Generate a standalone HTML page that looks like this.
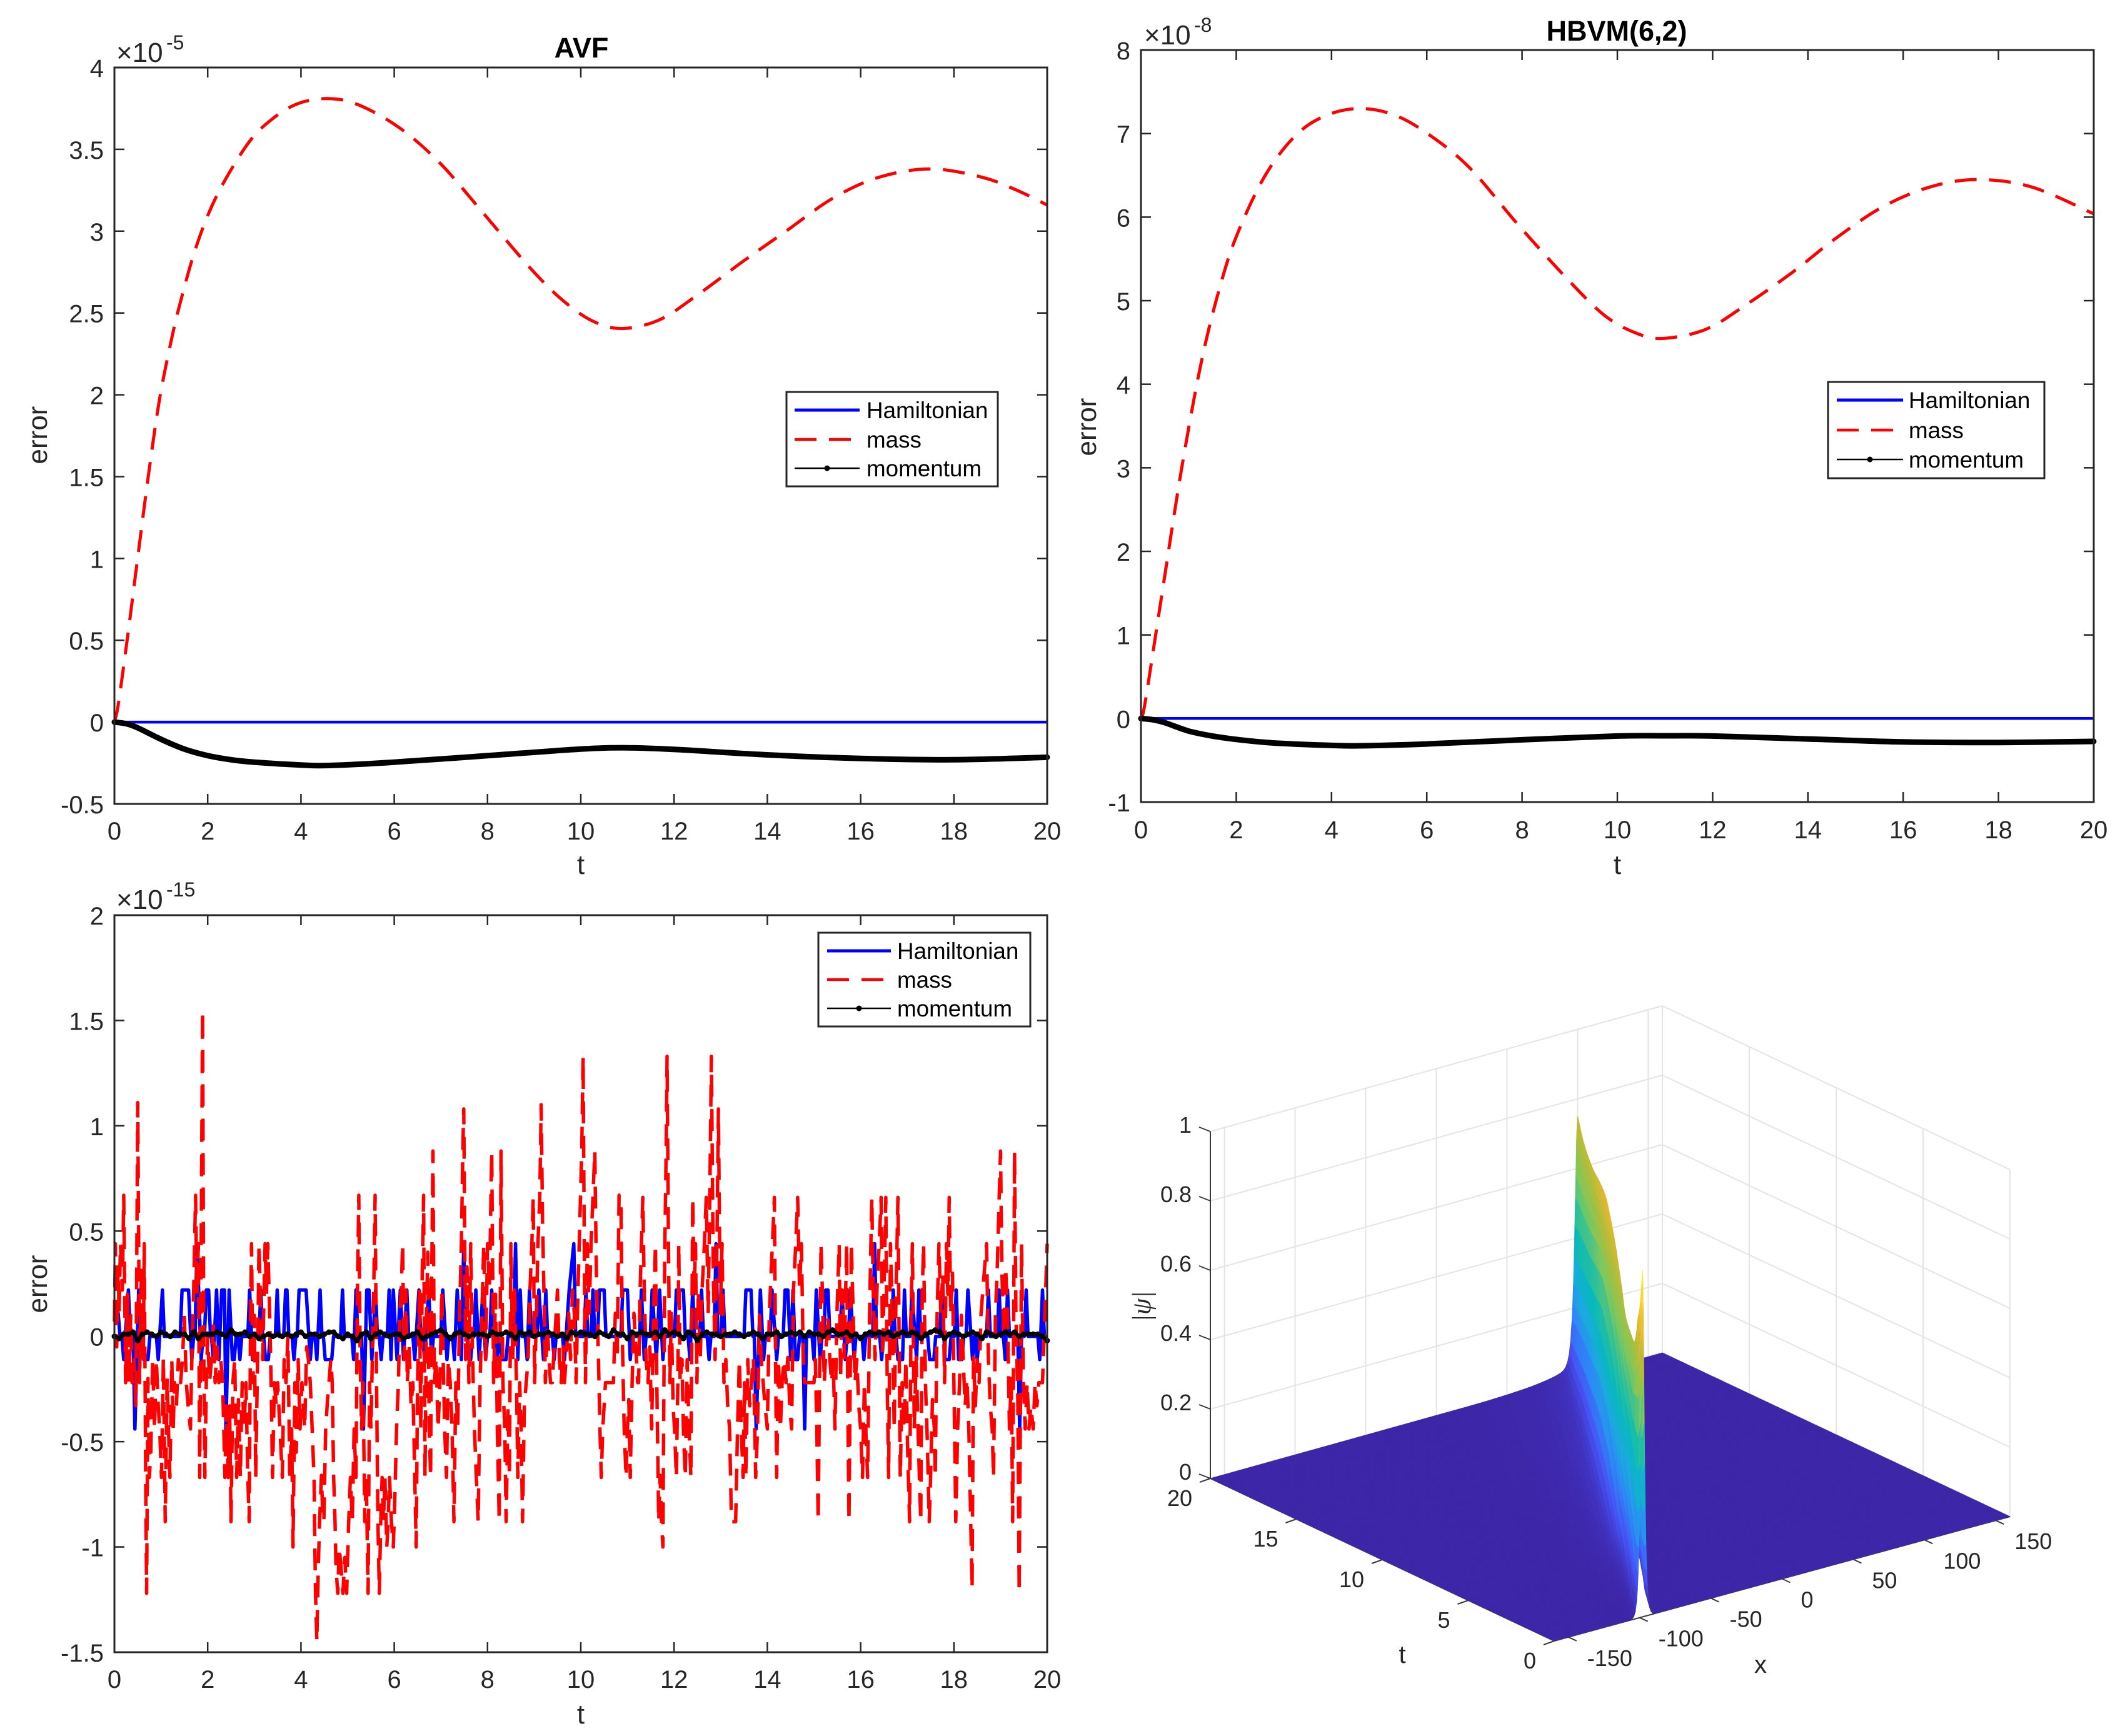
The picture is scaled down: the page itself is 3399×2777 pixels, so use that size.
<!DOCTYPE html>
<html lang="en">
<head>
<meta charset="utf-8">
<title>Error plots and soliton surface</title>
<style>
html,body{margin:0;padding:0;background:#fff;}
svg{display:block;}
text{font-family:"Liberation Sans",Arial,sans-serif;fill:#262626;}
</style>
</head>
<body>
<svg id="fig" xmlns="http://www.w3.org/2000/svg" width="3399" height="2777" viewBox="0 0 3399 2777">
  <rect x="0" y="0" width="3399" height="2777" fill="#ffffff"/>
  <g id="p1"></g>
  <g id="p2"></g>
  <g id="p3"></g>
  <g id="p4"></g>
</svg>
<script>
// ---- shared axis categories ----
const tTicks = [0,2,4,6,8,10,12,14,16,18,20];
const legendLabels = ['Hamiltonian','mass','momentum'];

// ---- AVF panel ----
const avfYTicks = [-0.5,0,0.5,1,1.5,2,2.5,3,3.5,4];
const avfYLabels = ['-0.5','0','0.5','1','1.5','2','2.5','3','3.5','4'];
const avfMassT = [0,0.09,0.3,0.52,0.74,0.96,1.18,1.4,1.76,2.2,2.85,3.36,3.94,4.6,5.25,6.12,7,7.94,8.9,9.6,10.26,10.9,11.7,12.5,13.5,14.4,15.4,16.4,17.5,18.6,19.35,20];
const avfMassV = [0,0.12,0.56,1.05,1.53,1.96,2.28,2.55,2.91,3.22,3.53,3.68,3.78,3.81,3.77,3.63,3.41,3.1,2.78,2.58,2.45,2.405,2.46,2.61,2.82,3.0,3.2,3.33,3.38,3.33,3.25,3.16];
const avfMomT = [0,0.25,0.5,1,1.5,2,2.5,3,4,4.6,6,8,10,11,12,14,16,18,20];
const avfMomV = [0,-0.01,-0.035,-0.105,-0.165,-0.205,-0.23,-0.245,-0.262,-0.265,-0.245,-0.205,-0.165,-0.157,-0.167,-0.2,-0.222,-0.23,-0.215];
const avfHamT = [0,20];
const avfHamV = [0,0];

// ---- HBVM panel ----
const hbvmYTicks = [-1,0,1,2,3,4,5,6,7,8];
const hbvmYLabels = ['-1','0','1','2','3','4','5','6','7','8'];
const hbvmMassT = [0,0.09,0.43,0.85,1.28,1.7,2.06,2.63,3.27,3.9,4.6,5.33,6.04,6.9,7.9,8.9,9.74,10.45,11,11.87,12.7,13.7,14.57,15.56,16.56,17.55,18.7,20];
const hbvmMassV = [0,0.2,1.45,2.98,4.3,5.25,5.85,6.52,6.99,7.22,7.3,7.22,6.99,6.59,5.92,5.29,4.82,4.6,4.55,4.66,4.95,5.35,5.74,6.12,6.36,6.45,6.36,6.04];
const hbvmMomT = [0,0.25,0.5,1,1.5,2,2.5,3,4,4.6,6,8,10,11,12,14,16,18,20];
const hbvmMomV = [0,-0.015,-0.05,-0.15,-0.21,-0.25,-0.28,-0.3,-0.322,-0.327,-0.305,-0.255,-0.21,-0.207,-0.21,-0.245,-0.28,-0.287,-0.274];
const hbvmHamT = [0,20];
const hbvmHamV = [0,0];

// ---- round-off noise panel ----
const noiseYTicks = [-1.5,-1,-0.5,0,0.5,1,1.5,2];
const noiseYLabels = ['-1.5','-1','-0.5','0','0.5','1','1.5','2'];
const noiseHamT = [0,0.08,0.2,0.3,0.44,0.52,0.63,0.72,0.94,1.03,1.45,1.5,1.59,1.66,1.77,1.86,1.97,2.02,2.12,2.19,2.24,2.3,2.36,2.39,2.46,2.53,2.57,2.69,2.9,2.96,3.14,3.24,3.3,3.49,3.67,3.7,3.85,3.96,4.0,4.08,4.11,4.2,4.34,4.41,4.52,4.6,4.66,4.89,5.13,5.18,5.34,5.41,5.46,5.52,5.6,5.72,5.89,5.93,5.98,6.06,6.13,6.2,6.27,6.44,6.53,6.65,6.74,6.8,7.04,7.13,7.29,7.35,7.44,7.49,7.6,7.64,7.75,7.82,7.9,7.96,8.09,8.2,8.3,8.4,8.6,8.65,8.7,8.85,8.9,9.1,9.2,9.25,9.43,9.65,9.75,9.85,10.11,10.26,10.4,10.5,10.9,11,11.06,11.3,11.36,11.53,11.62,11.69,11.76,12.05,12.12,12.2,12.34,12.4,12.59,12.75,12.9,13.05,13.54,13.6,13.65,13.76,13.85,13.92,14.1,14.2,14.38,14.44,14.5,14.55,14.6,14.65,14.8,15,15.05,15.13,15.25,15.3,15.6,15.67,15.78,15.86,16.07,16.3,16.45,16.7,16.8,16.9,16.94,17.1,17.2,17.25,17.48,17.57,17.74,17.81,17.9,18.05,18.1,18.17,18.3,18.4,18.5,18.74,18.97,19.1,19.15,19.41,19.55,19.84,19.9,20];
const noiseHamV = [0.17,0.11,-0.11,0.22,-0.44,0.22,-0.11,-0.11,-0.11,0.22,0.22,0.22,0.22,-0.11,0.44,-0.11,0.22,0.22,-0.11,0.22,-0.11,0.22,0.22,-0.44,0.22,-0.11,-0.11,-0.11,0.22,-0.11,0.22,-0.11,-0.11,0.22,0.22,0.22,-0.11,0.22,0.22,0.22,0.22,-0.11,-0.11,0.22,-0.11,-0.11,-0.11,0.22,-0.11,0.22,-0.44,0.22,0.22,-0.11,0.22,-0.11,0.22,-0.11,0.22,-0.11,0.22,-0.11,0.22,-0.11,0.22,-0.11,0.22,-0.11,0.22,-0.11,-0.11,0.22,-0.11,0.44,-0.11,-0.11,0.22,-0.11,0.22,-0.11,0.22,-0.11,-0.11,-0.11,0.44,-0.11,0.22,-0.11,0.22,0.22,-0.11,0.22,-0.11,-0.11,0.22,0.44,0.22,0.22,0.22,0.22,0.22,0.22,-0.11,0.22,-0.11,0.22,-0.11,0.22,-0.11,0.22,0.22,0.22,-0.11,0.22,0.22,-0.11,0.44,0.22,0.22,0.22,0.22,-0.44,0.22,-0.11,0.22,-0.11,0.22,0.22,-0.11,0.22,-0.11,-0.11,-0.44,-0.11,0.22,-0.11,0.22,0.22,0.22,-0.11,0.22,-0.11,-0.11,0.44,-0.11,0.22,-0.11,-0.11,0.22,0.22,-0.11,0.22,-0.11,-0.11,0.22,-0.11,-0.11,0.22,-0.11,-0.11,0.22,-0.11,-0.11,0.22,0.22,-0.11,0.22,-0.44,0.22,-0.11,0.22,-0.02];
const noiseMassT = [0,.02,.05,.08,.1,.13,.17,.2,.24,.28,
.31,.35,.38,.42,.46,.5,.54,.58,.62,.64,
.67,.69,.72,.75,.78,.82,.86,.9,.94,.97,
1.01,1.05,1.09,1.13,1.16,1.19,1.23,1.26,1.29,1.33,
1.37,1.42,1.46,1.5,1.54,1.58,1.63,1.67,1.7,1.74,
1.77,1.8,1.83,1.86,1.89,1.92,1.94,1.97,2,2.04,
2.08,2.12,2.16,2.2,2.24,2.28,2.32,2.37,2.4,2.44,
2.47,2.5,2.54,2.58,2.62,2.66,2.7,2.74,2.78,2.82,
2.86,2.89,2.92,2.94,2.97,3,3.03,3.07,3.1,3.14,
3.18,3.23,3.26,3.29,3.33,3.36,3.39,3.43,3.47,3.5,
3.55,3.6,3.64,3.68,3.72,3.76,3.8,3.83,3.87,3.9,
3.94,3.98,4.02,4.05,4.08,4.12,4.16,4.2,4.24,4.28,
4.31,4.34,4.37,4.4,4.44,4.47,4.49,4.53,4.57,4.6,
4.64,4.67,4.7,4.73,4.75,4.79,4.82,4.86,4.9,4.94,
4.98,5.02,5.06,5.1,5.14,5.18,5.21,5.24,5.27,5.3,
5.33,5.37,5.4,5.44,5.47,5.5,5.53,5.56,5.59,5.62,
5.65,5.68,5.71,5.74,5.77,5.8,5.84,5.87,5.9,5.94,
5.98,6.01,6.05,6.09,6.12,6.15,6.18,6.21,6.25,6.28,
6.32,6.36,6.4,6.44,6.47,6.5,6.54,6.57,6.6,6.63,
6.66,6.69,6.72,6.75,6.78,6.8,6.83,6.86,6.9,6.94,
6.98,7.02,7.05,7.08,7.12,7.16,7.2,7.24,7.28,7.32,
7.36,7.4,7.44,7.47,7.49,7.53,7.56,7.6,7.64,7.68,
7.72,7.76,7.8,7.84,7.88,7.92,7.96,8,8.04,8.09,
8.13,8.17,8.21,8.25,8.29,8.33,8.37,8.4,8.44,8.47,
8.5,8.54,8.58,8.62,8.65,8.69,8.72,8.75,8.79,8.83,
8.87,8.91,8.95,8.98,9.01,9.05,9.08,9.12,9.15,9.18,
9.21,9.24,9.28,9.32,9.35,9.39,9.43,9.47,9.5,9.54,
9.58,9.62,9.65,9.7,9.74,9.78,9.82,9.86,9.9,9.94,
9.98,10.02,10.05,10.08,10.1,10.14,10.18,10.22,10.26,10.3,
10.34,10.38,10.41,10.44,10.47,10.5,10.53,10.7,10.74,10.78,
10.82,10.86,10.89,10.93,10.97,11,11.03,11.06,11.1,11.14,
11.18,11.22,11.24,11.27,11.3,11.33,11.36,11.4,11.44,11.48,
11.52,11.56,11.6,11.63,11.67,11.7,11.73,11.76,11.8,11.83,
11.85,11.88,11.91,11.94,11.98,12.01,12.05,12.08,12.1,12.13,
12.17,12.2,12.24,12.28,12.32,12.36,12.4,12.43,12.46,12.49,
12.52,12.56,12.6,12.65,12.69,12.73,12.76,12.8,12.84,12.88,
12.92,12.95,12.99,13.03,13.07,13.11,13.15,13.19,13.23,13.27,
13.32,13.36,13.4,13.44,13.48,13.51,13.54,13.58,13.62,13.66,
13.7,13.75,13.79,13.83,13.87,13.91,13.95,14,14.04,14.08,
14.12,14.15,14.18,14.2,14.24,14.28,14.32,14.36,14.4,14.44,
14.48,14.52,14.56,14.6,14.65,14.69,14.73,14.77,14.8,15,
15.03,15.06,15.09,15.12,15.15,15.18,15.22,15.26,15.3,15.34,
15.38,15.41,15.45,15.49,15.54,15.57,15.61,15.65,15.7,15.73,
15.75,15.78,15.8,15.84,15.88,15.92,15.96,16,16.04,16.08,
16.12,16.15,16.19,16.22,16.24,16.27,16.31,16.35,16.4,16.44,
16.47,16.51,16.54,16.57,16.6,16.64,16.68,16.72,16.76,16.8,
16.85,16.89,16.93,16.97,17.01,17.05,17.08,17.11,17.15,17.19,
17.23,17.26,17.29,17.32,17.35,17.39,17.43,17.47,17.5,17.54,
17.58,17.6,17.64,17.68,17.72,17.76,17.8,17.84,17.87,17.9,
17.93,17.97,18,18.04,18.08,18.12,18.16,18.2,18.24,18.28,
18.32,18.36,18.39,18.42,18.46,18.5,18.54,18.58,18.62,18.66,
18.7,18.74,18.78,18.82,18.85,18.89,18.93,18.97,19,19.03,
19.07,19.11,19.15,19.19,19.23,19.26,19.3,19.33,19.37,19.4,
19.45,19.49,19.53,19.57,19.61,19.65,19.7,19.74,19.78,19.82,
19.9,19.95,20];
const noiseMassV = [.07,.44,-.05,.33,.11,.44,.22,.67,-.22,.2,
-.22,.1,-.22,-.11,-.33,1.11,-.22,.33,-.11,.44,
-.67,-1.22,-.2,-.67,-.55,-.11,-.44,-.11,-.33,-.44,
-.67,-.1,-.88,-.2,-.44,-.67,-.11,-.44,-.22,-.33,
-.11,-.22,-.11,.1,-.22,-.33,-.44,0,.22,.67,
.2,.44,-.67,.44,1.55,-.2,-.67,-.22,0,-.22,
-.11,.05,-.22,-.05,-.22,-.11,-.22,-.67,-.33,-.67,
-.33,-.88,-.22,-.11,-.67,-.3,-.67,-.22,-.44,-.22,
-.67,-.88,.1,.44,-.22,.1,-.67,-.11,.44,.11,
-.11,.44,.2,.44,.1,-.22,-.67,-.22,-.33,-.22,
-.44,-.67,-.11,-.22,0,-.67,-.44,-1,-.22,-.55,
-.11,-.44,-.22,-.33,-.44,-.05,-.11,-.22,-.44,-.67,
-1.2,-1.45,-1.11,-.88,-.66,-.88,-.88,-.44,-.3,-.22,
-.11,-.22,-.66,-.88,-1.1,-1.22,-1,-1.1,-1.22,-1.05,
-1.22,-.9,-.67,-.88,-.44,-.67,.22,.67,-.11,-.44,
-.22,-.88,-.66,-1.22,-.22,-.44,-.11,.22,.67,-.22,
-.88,-1.22,-.88,-.67,-.88,-.67,-1,-.88,-.67,-.88,
-1,-.8,-.44,-.22,.11,.22,.44,-.11,.22,-.22,
-.05,-.33,-.22,-.67,-1,-.22,.22,-.44,.3,.67,
-.67,.1,.4,-.44,-.67,.22,.88,-.22,-.1,-.44,
-.22,.22,-.11,-.44,-.67,-.11,-.22,-.44,-.88,-.22,
-.44,.1,.44,.88,1.08,-.11,.33,-.22,.44,-.1,
-.44,-.67,-.88,-.22,.1,.44,-.11,.44,.22,.88,
-.22,.2,-.44,-.88,.88,-.22,-.44,-.88,-.33,-.67,
.44,-.11,.22,-.22,-.67,-.22,-.44,-.88,-.33,-.22,
-.11,.22,.44,.66,-.22,.11,.44,.66,1.1,.55,
.2,-.22,.05,-.11,-.22,-.22,-.05,.1,.22,-.11,
-.22,-.05,-.22,-.05,.11,-.11,.22,.11,-.22,.22,
.55,.88,1.33,.22,-.22,.44,.11,.44,.66,.88,
.2,-.11,-.44,-.67,-.44,-.33,-.22,-.22,.11,-.11,
.67,.67,0,-.44,-.67,-.44,-.3,-.67,-.22,.11,
-.05,-.22,-.22,.2,.44,.66,.22,-.11,-.22,-.05,
-.44,.1,.44,-.22,-.88,-.66,-.88,-1,.4,.88,
1.33,.44,-.22,.11,-.33,-.44,-.67,-.22,.44,-.22,
-.11,-.44,-.67,-.11,-.44,-.67,.66,.2,.44,-.22,
.22,-.11,.22,.44,.66,.11,.55,1.33,.3,-.11,
.44,1.08,.11,.44,-.22,-.11,-.33,-.44,-.88,-.88,
-.88,-.44,-.11,-.44,-.67,-.22,-.67,-.11,-.33,-.22,
-.1,-.67,-.44,.1,-.11,-.22,-.33,-.44,.1,.3,
.5,.66,-.2,-.67,-.11,-.44,-.2,-.11,-.22,-.1,
-.33,-.44,.22,.4,.66,.22,.44,-.1,-.22,-.22,
-.11,-.44,-.88,-.2,.44,.22,-.22,-.05,.1,-.11,
-.22,-.11,-.44,.1,.44,-.2,.22,-.1,.44,-.44,
-.88,-.1,.44,.11,-.22,-.11,-.33,-.44,-.67,-.22,
-.5,-.67,.1,.44,.66,.22,-.11,.22,.44,.66,
-.1,.3,.66,-.22,-.67,.44,.1,-.44,.22,.66,
-.67,-.22,-.44,-.11,-.55,-.88,.1,.44,-.44,-.1,
-.44,-.67,-.88,.2,.44,-.22,-.5,-.88,-.67,-.3,
-.44,-.67,.1,.44,.1,.3,-.22,.44,.2,.66,
.1,.3,-.22,-.88,-.44,-.22,.1,-.11,-.33,-.2,
-.44,-.88,-1.2,-.1,-.33,-.11,-.22,.1,.22,.33,
.44,-.11,-.33,-.44,-.67,.1,.33,.66,.88,.3,
0,.33,.1,-.44,-.2,-.88,.88,.1,-.3,-1.22,
.44,-.22,-.44,-.22,-.44,-.33,-.44,-.22,-.33,-.22,
-.22,.1,.44];
const noiseMomDt = 0.1;
const noiseMomV = [0,-.01,.01,.01,.02,-.02,.01,.02,.01,0,
.02,.01,0,.02,.01,.01,-.01,.02,-.01,.01,
.01,.01,.02,.01,0,.03,.01,.01,.02,0,
.01,-.01,0,.01,0,.01,0,.01,0,.01,
.02,0,.01,.01,0,.01,.02,.02,0,-.01,
.01,0,-.02,.01,.02,-.01,.01,.02,.01,0,
.01,.01,-.01,0,.01,.02,-.01,0,.01,.02,
.03,.01,-.01,.01,.02,.01,0,.01,.01,.01,
0,.02,.01,.01,.02,.01,-.01,.02,.01,.02,
0,.01,.01,.02,.01,0,.01,-.01,.02,.01,
.02,.01,.01,0,.02,.01,0,.03,.01,.01,
-.01,.02,.01,.02,.01,.01,.02,0,.03,.01,
.02,.01,-.01,.02,.01,-.02,.01,.02,.01,.01,
0,.01,.01,.02,.01,0,.01,.02,.01,-.01,
.01,.01,.02,0,.01,.02,.01,.02,0,.02,
.01,.01,0,.02,.03,.01,.01,.02,0,.01,
-.01,.01,.02,.01,.02,.01,.02,0,.01,.02,
.01,.02,.01,-.01,.01,.02,.03,.02,-.01,.01,
.02,.01,0,.01,.02,.01,-.01,.02,.01,0,
.01,.02,.01,.02,0,.01,.01,.01,.01,0,-.02];

// ---- surface panel: ridge of |psi| read at sampled times ----
const surfXTicks = [-150,-100,-50,0,50,100,150];
const surfTTicks = [0,5,10,15,20];
const surfZTicks = [0,0.2,0.4,0.6,0.8,1];
const surfZLabels = ['0','0.2','0.4','0.6','0.8','1'];
const ridgeT      = [0,0.4,0.8,1.35,2,2.7,4,5.2,6.5,8.5,10,11.5,13.5,15.8,18,20];
const ridgeCenter = [-98,-94,-90,-85,-78,-71,-58,-47,-34,-14,1,16,36,59,80,100];
const ridgeAmp    = [1,0.925,0.86,0.795,0.73,0.67,0.63,0.63,0.66,0.7,0.72,0.73,0.715,0.686,0.69,0.71];
const ridgeWidth  = [1.1,1.1,1.1,1.2,1.3,1.4,1.6,1.8,2,2.2,2.2,2.2,2.1,2,1.9,1.7];
const tailAmp     = [0,0.005,0.01,0.015,0.02,0.03,0.05,0.06,0.07,0.08,0.08,0.08,0.07,0.06,0.05,0.04];
const tailLen     = [3,3,4,4,5,6,7,8,9,10,11,12,14,16,18,20];

const NS = 'http://www.w3.org/2000/svg';
const DARK = '#262626';

function mk(parent, tag, name, interactable, attrs, txt) {
  const el = document.createElementNS(NS, tag);
  
  
  for (const k in attrs) el.setAttribute(k, attrs[k]);
  if (txt !== undefined) el.textContent = txt;
  parent.appendChild(el);
  return el;
}

// smooth curve through read samples
function smoothPath(pts) {
  let d = 'M' + pts[0][0].toFixed(1) + ' ' + pts[0][1].toFixed(1);
  for (let i = 0; i < pts.length - 1; i++) {
    const p0 = pts[Math.max(i - 1, 0)], p1 = pts[i], p2 = pts[i + 1], p3 = pts[Math.min(i + 2, pts.length - 1)];
    const c1x = p1[0] + (p2[0] - p0[0]) / 6, c1y = p1[1] + (p2[1] - p0[1]) / 6;
    const c2x = p2[0] - (p3[0] - p1[0]) / 6, c2y = p2[1] - (p3[1] - p1[1]) / 6;
    d += 'C' + c1x.toFixed(1) + ' ' + c1y.toFixed(1) + ' ' + c2x.toFixed(1) + ' ' + c2y.toFixed(1) + ' ' + p2[0].toFixed(1) + ' ' + p2[1].toFixed(1);
  }
  return d;
}
function linePath(pts) {
  return pts.map((p, i) => (i ? 'L' : 'M') + p[0].toFixed(1) + ' ' + p[1].toFixed(1)).join('');
}

function drawAxes(g, c) {
  const sx = v => c.x0 + (c.x1 - c.x0) * v / 20;
  const sy = v => c.y1 - (c.y1 - c.y0) * (v - c.ymin) / (c.ymax - c.ymin);
  c.sx = sx; c.sy = sy;
  const TL = 16;
  tTicks.forEach(v => {
    const x = sx(v);
    mk(g, 'line', 'x-tick-bottom', 'false', {x1:x, x2:x, y1:c.y1, y2:c.y1 - TL, stroke:DARK, 'stroke-width':2.5});
    mk(g, 'line', 'x-tick-top', 'false', {x1:x, x2:x, y1:c.y0, y2:c.y0 + TL, stroke:DARK, 'stroke-width':2.5});
    mk(g, 'text', 'x-tick-label', 'false', {x:x, y:c.xTickY, 'font-size':40, 'text-anchor':'middle'}, String(v));
  });
  c.yTicks.forEach((v, i) => {
    const y = sy(v);
    mk(g, 'line', 'y-tick-left', 'false', {x1:c.x0, x2:c.x0 + TL, y1:y, y2:y, stroke:DARK, 'stroke-width':2.5});
    mk(g, 'line', 'y-tick-right', 'false', {x1:c.x1, x2:c.x1 - TL, y1:y, y2:y, stroke:DARK, 'stroke-width':2.5});
    mk(g, 'text', 'y-tick-label', 'false', {x:c.yLabX, y:y + 15, 'font-size':40, 'text-anchor':'end'}, c.yLabels[i]);
  });
  mk(g, 'text', 'x-axis-title', 'false', {x:(c.x0 + c.x1) / 2, y:c.xTitleY, 'font-size':44, 'text-anchor':'middle'}, 't');
  mk(g, 'text', 'y-axis-title', 'false', {x:0, y:0, 'font-size':44, 'text-anchor':'middle', transform:'translate(' + c.yTitleX + ' ' + c.yTitleY + ') rotate(-90)'}, 'error');
  mk(g, 'text', 'y-scale-factor', 'false', {x:c.expX, y:c.expY, 'font-size':44}, '\u00d710');
  mk(g, 'text', 'y-scale-exponent', 'false', {x:c.expX + 80, y:c.expY - 20, 'font-size':32}, c.exp);
  if (c.title) mk(g, 'text', 'panel-title', 'false', {x:c.titleX, y:c.titleY, 'font-size':45, 'font-weight':'bold', 'text-anchor':'middle', style:'fill:#000'}, c.title);
}
function drawBox(g, c) {
  mk(g, 'rect', 'axes-box', 'false', {x:c.x0, y:c.y0, width:c.x1 - c.x0, height:c.y1 - c.y0, fill:'none', stroke:DARK, 'stroke-width':3});
}
function drawLegend(g, c) {
  const L = c.legend;
  mk(g, 'rect', 'legend-box', 'false', {x:L.x0, y:L.y0, width:L.x1 - L.x0, height:L.y1 - L.y0, fill:'#fff', stroke:DARK, 'stroke-width':3});
  mk(g, 'line', 'legend-line-hamiltonian', 'false', {x1:L.lx0, x2:L.lx1, y1:L.rows[0], y2:L.rows[0], stroke:'#0000ff', 'stroke-width':5});
  mk(g, 'line', 'legend-line-mass', 'false', {x1:L.lx0, x2:L.lx0 + 90, y1:L.rows[1], y2:L.rows[1], stroke:'#ff0000', 'stroke-width':4.5, 'stroke-dasharray':'35 20'});
  mk(g, 'line', 'legend-line-momentum', 'false', {x1:L.lx0, x2:L.lx1, y1:L.rows[2], y2:L.rows[2], stroke:'#000', 'stroke-width':2.5});
  mk(g, 'circle', 'legend-marker-momentum', 'false', {cx:(L.lx0 + L.lx1) / 2, cy:L.rows[2], r:4.5, fill:'#000'});
  legendLabels.forEach((s, i) => {
    mk(g, 'text', 'legend-entry', 'true', {x:L.tx - 1, y:L.rows[i] + 13, 'font-size':36.8, style:'fill:#000'}, s);
  });
}

// ---- panel configs ----
const cfg1 = {x0:183, x1:1675, y0:108, y1:1286, ymin:-0.5, ymax:4, yTicks:avfYTicks, yLabels:avfYLabels, yLabX:166, xTickY:1343, xTitleY:1398, yTitleX:75, yTitleY:696, expX:186, expY:99, exp:'-5', title:'AVF', titleX:930, titleY:92,
  legend:{x0:1258, x1:1596, y0:627, y1:778, lx0:1271, lx1:1375, tx:1387, rows:[656,703,749]}};
const cfg2 = {x0:1825, x1:3349, y0:80, y1:1283, ymin:-1, ymax:8, yTicks:hbvmYTicks, yLabels:hbvmYLabels, yLabX:1808, xTickY:1341, xTitleY:1398, yTitleX:1753, yTitleY:683, expX:1830, expY:71, exp:'-8', title:'HBVM(6,2)', titleX:2586, titleY:65,
  legend:{x0:2924, x1:3270, y0:611, y1:765, lx0:2938, lx1:3044, tx:3054, rows:[640,688,735]}};
const cfg3 = {x0:183, x1:1675, y0:1464, y1:2643, ymin:-1.5, ymax:2, yTicks:noiseYTicks, yLabels:noiseYLabels, yLabX:166, xTickY:2700, xTitleY:2757, yTitleX:75, yTitleY:2054, expX:186, expY:1454, exp:'-15',
  legend:{x0:1309, x1:1648, y0:1492, y1:1642, lx0:1323, lx1:1425, tx:1436, rows:[1521,1567,1613]}};

function drawSmoothPanel(id, c, hT, hV, mT, mV, pT, pV) {
  const g = document.getElementById(id);
  drawAxes(g, c);
  const hp = hT.map((t, i) => [c.sx(t), c.sy(hV[i])]);
  mk(g, 'path', 'hamiltonian-line', 'false', {d:linePath(hp), fill:'none', stroke:'#0000ff', 'stroke-width':4.5});
  const mp = mT.map((t, i) => [c.sx(t), c.sy(mV[i])]);
  mk(g, 'path', 'mass-line', 'false', {d:smoothPath(mp), fill:'none', stroke:'#ff0000', 'stroke-width':5, 'stroke-dasharray':'35 20'});
  const pp = pT.map((t, i) => [c.sx(t), c.sy(pV[i])]);
  mk(g, 'path', 'momentum-line', 'false', {d:smoothPath(pp), fill:'none', stroke:'#000', 'stroke-width':9, 'stroke-linecap':'round'});
  drawBox(g, c);
  drawLegend(g, c);
}
drawSmoothPanel('p1', cfg1, avfHamT, avfHamV, avfMassT, avfMassV, avfMomT, avfMomV);
drawSmoothPanel('p2', cfg2, hbvmHamT, hbvmHamV, hbvmMassT, hbvmMassV, hbvmMomT, hbvmMomV);

// noise panel
(function () {
  const g = document.getElementById('p3');
  const c = cfg3;
  drawAxes(g, c);
  const hp = [];
  noiseHamT.forEach((t, i) => {
    hp.push([c.sx(t), c.sy(noiseHamV[i])]);
    const next = noiseHamT[i + 1];
    if (next !== undefined && next - t > 0.1) {
      hp.push([c.sx(t + 0.04), c.sy(0)]);
      hp.push([c.sx(next - 0.04), c.sy(0)]);
    }
  });
  mk(g, 'path', 'hamiltonian-line', 'false', {d:linePath(hp), fill:'none', stroke:'#0000ff', 'stroke-width':5.5, 'stroke-linejoin':'round'});
  const mp = noiseMassT.map((t, i) => [c.sx(t), c.sy(noiseMassV[i])]);
  mk(g, 'path', 'mass-line', 'false', {d:linePath(mp), fill:'none', stroke:'#ff0000', 'stroke-width':5.5, 'stroke-dasharray':'35 20', 'stroke-linejoin':'round'});
  const pp = noiseMomV.map((v, i) => [c.sx(i * noiseMomDt), c.sy(v)]);
  mk(g, 'path', 'momentum-line', 'false', {d:linePath(pp), fill:'none', stroke:'#000', 'stroke-width':6.5, 'stroke-linejoin':'round'});
  const dots = mk(g, 'g', 'momentum-markers', 'false', {fill:'#000'});
  pp.forEach(p => {
    mk(dots, 'circle', 'momentum-marker', 'false', {cx:p[0].toFixed(1), cy:p[1].toFixed(1), r:4.5});
  });
  drawBox(g, c);
  drawLegend(g, c);
})();

// ---- 3D surface panel ----
const XMIN = -160, XMAX = 160;
function proj(x, t, z) {
  const u = (x - XMIN) / (XMAX - XMIN), v = t / 20;
  return [2486 + 729 * u - 550 * v - 6 * u * v, 2625 - 199 * u - 260 * v - 2 * u * v - 555 * z];
}
// smooth lookup along the read ridge samples
function lookup(arr, t) {
  let i = 0;
  while (i < ridgeT.length - 2 && ridgeT[i + 1] < t) i++;
  const h = ridgeT[i + 1] - ridgeT[i], f = (t - ridgeT[i]) / h;
  const slope = k => {
    const a = Math.max(k - 1, 0), b = Math.min(k + 1, arr.length - 1);
    return (arr[b] - arr[a]) / (ridgeT[b] - ridgeT[a]);
  };
  const m0 = slope(i) * h, m1 = slope(i + 1) * h, f2 = f * f, f3 = f2 * f;
  return (2 * f3 - 3 * f2 + 1) * arr[i] + (f3 - 2 * f2 + f) * m0 + (3 * f2 - 2 * f3) * arr[i + 1] + (f3 - f2) * m1;
}
function surfZ(x, t) {
  const c = lookup(ridgeCenter, t), d = x - c;
  const w = lookup(ridgeWidth, t), A = lookup(ridgeAmp, t);
  const s = A / Math.cosh(Math.min(Math.abs(d / w), 40));
  const b = Math.max(0, lookup(tailAmp, t)), L = lookup(tailLen, t);
  const tail = d < 0 ? b * Math.exp(d / L) : b * Math.exp(-d / 2);
  return s + tail;
}
const parulaStops = [[62,38,168],[71,82,244],[46,135,247],[28,170,223],[7,185,188],[50,193,150],[125,200,95],[172,190,60],[225,184,48],[252,208,44],[249,251,20]];
function parula(z) {
  const v = Math.max(0, Math.min(0.9999, z)) * (parulaStops.length - 1);
  const i = Math.floor(v), f = v - i, a = parulaStops[i], b = parulaStops[i + 1];
  return 'rgb(' + Math.round(a[0] + (b[0] - a[0]) * f) + ',' + Math.round(a[1] + (b[1] - a[1]) * f) + ',' + Math.round(a[2] + (b[2] - a[2]) * f) + ')';
}
(function () {
  const g = document.getElementById('p4');
  const walls = mk(g, 'g', 'back-wall-grid', 'false', {stroke:'#e4e4e4', 'stroke-width':2, fill:'none'});
  function seg(parent, name, a, b) {
    mk(parent, 'line', name, 'false', {x1:a[0], y1:a[1], x2:b[0], y2:b[1]});
  }
  surfZTicks.forEach(z => {
    seg(walls, 'grid-line-z-left-wall', proj(XMIN, 20, z), proj(XMAX, 20, z));
    seg(walls, 'grid-line-z-right-wall', proj(XMAX, 20, z), proj(XMAX, 0, z));
  });
  surfXTicks.forEach(x => {
    seg(walls, 'grid-line-x', proj(x, 20, 0), proj(x, 20, 1));
  });
  surfTTicks.forEach(t => {
    seg(walls, 'grid-line-t', proj(XMAX, t, 0), proj(XMAX, t, 1));
  });
  seg(walls, 'grid-line-corner', proj(XMAX, 20, 0), proj(XMAX, 20, 1));

  // axis lines and ticks
  const axes = mk(g, 'g', 'surface-axes', 'false', {stroke:'#3a3a3a', 'stroke-width':2, fill:'none'});
  seg(axes, 'z-axis-line', proj(XMIN, 20, 0), proj(XMIN, 20, 1));
  seg(axes, 't-axis-line', proj(XMIN, 20, 0), proj(XMIN, 0, 0));
  seg(axes, 'x-axis-line', proj(XMIN, 0, 0), proj(XMAX, 0, 0));
  surfZTicks.forEach((z, i) => {
    const p = proj(XMIN, 20, z);
    seg(axes, 'z-tick', p, [p[0] - 18, p[1] - 7]);
    mk(g, 'text', 'z-tick-label', 'false', {x:1906, y:p[1] + 2, 'font-size':36, 'text-anchor':'end'}, surfZLabels[i]);
  });
  surfXTicks.forEach(x => {
    const p = proj(x, 0, 0);
    seg(axes, 'x-tick', p, [p[0] + 13, p[1] + 6]);
    mk(g, 'text', 'x-tick-label', 'false', {x:p[0] + 30, y:p[1] + 46, 'font-size':36}, String(x));
  });
  surfTTicks.forEach(t => {
    const p = proj(XMIN, t, 0);
    seg(axes, 't-tick', p, [p[0] - 17, p[1] + 6]);
    mk(g, 'text', 't-tick-label', 'false', {x:p[0] - 29, y:p[1] + 44, 'font-size':36, 'text-anchor':'end'}, String(t));
  });
  mk(g, 'text', 'x-axis-title', 'false', {x:2816, y:2676, 'font-size':40, 'text-anchor':'middle'}, 'x');
  mk(g, 'text', 't-axis-title', 'false', {x:2243, y:2660, 'font-size':40, 'text-anchor':'middle'}, 't');
  mk(g, 'text', 'z-axis-title', 'false', {x:0, y:0, 'font-size':42, 'text-anchor':'middle', transform:'translate(1840 2090) rotate(-90)', style:'font-family:"Liberation Serif",serif;font-style:italic'}, '|\u03c8|');

  // surface mesh: back to front, far x to near x
  const pos = [0,0.25,0.5,0.75,1,1.3,1.6,2,2.5,3,3.5,4,5,6,7,8.5,10,12,15,18,22,27,33,40,50,65,80,500];
  const offs = pos.slice().reverse().map(v => v).concat(pos.slice(1).map(v => -v));
  const mesh = mk(g, 'g', 'surface-mesh', 'false', {'stroke-width':0.8, 'stroke-linejoin':'round'});
  const rows = 200;
  const clampX = x => Math.max(XMIN, Math.min(XMAX, x));
  for (let r = rows; r > 0; r--) {
    const tA = r * 20 / rows, tB = (r - 1) * 20 / rows;
    const cA = lookup(ridgeCenter, tA), cB = lookup(ridgeCenter, tB);
    for (let j = 0; j < offs.length - 1; j++) {
      const xA1 = clampX(cA + offs[j]), xA2 = clampX(cA + offs[j + 1]);
      const xB1 = clampX(cB + offs[j]), xB2 = clampX(cB + offs[j + 1]);
      if (xA1 === xA2 && xB1 === xB2) continue;
      const z1 = surfZ(xA1, tA), z2 = surfZ(xA2, tA), z3 = surfZ(xB2, tB), z4 = surfZ(xB1, tB);
      const col = parula((z1 + z2 + z3 + z4) / 4);
      const pts = [proj(xA1, tA, z1), proj(xA2, tA, z2), proj(xB2, tB, z3), proj(xB1, tB, z4)]
        .map(p => p[0].toFixed(1) + ',' + p[1].toFixed(1)).join(' ');
      const cell = document.createElementNS(NS, 'polygon');
      
      
      cell.setAttribute('points', pts);
      cell.setAttribute('fill', col);
      cell.setAttribute('stroke', col);
      mesh.appendChild(cell);
    }
  }
})();
</script>
</body>
</html>
